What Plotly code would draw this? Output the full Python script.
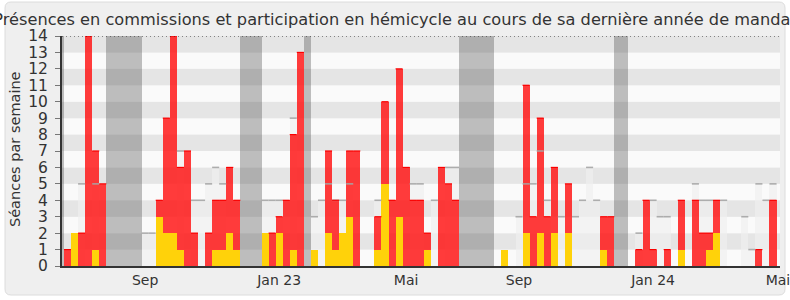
import plotly.graph_objects as go

# ---------------- data (one entry per week, week 0 .. 100) ----------------
n_weeks = 101
weeks = list(range(n_weeks))

# yellow part (bottom of each bar)
hemicycle = [0] * n_weeks
for w, v in {1: 2, 4: 1, 13: 3, 14: 2, 15: 2, 16: 1, 21: 1, 22: 1, 23: 2, 24: 1,
             28: 2, 30: 2, 32: 1, 35: 1, 37: 2, 38: 1, 39: 2, 40: 3, 44: 1, 45: 5,
             47: 3, 51: 1, 62: 1, 65: 2, 67: 2, 69: 2, 71: 2, 76: 1, 87: 1, 91: 1,
             92: 2}.items():
    hemicycle[w] = v

# red part (stacked on the yellow part)
commissions = [0] * n_weeks
for w, v in {0: 1, 2: 2, 3: 14, 4: 6, 5: 5, 13: 1, 14: 7, 15: 12, 16: 5, 17: 7,
             18: 2, 20: 2, 21: 3, 22: 3, 23: 4, 24: 3, 29: 2, 30: 1, 31: 4, 32: 7,
             33: 13, 37: 5, 38: 3, 40: 4, 41: 7, 44: 2, 45: 5, 46: 4, 47: 9, 48: 6,
             49: 4, 50: 4, 51: 1, 53: 6, 54: 5, 55: 4, 65: 9, 66: 3, 67: 7, 68: 3,
             69: 4, 71: 3, 76: 2, 77: 3, 81: 1, 82: 4, 83: 1, 85: 1, 87: 3, 89: 4,
             90: 2, 91: 1, 92: 2, 98: 1, 100: 4}.items():
    commissions[w] = v

# median of all deputies (light grey bars)
mediane = [None] * n_weeks
for w, v in {2: 5, 4: 5, 11: 2, 12: 2, 16: 7, 18: 4, 19: 4, 20: 5, 21: 6, 22: 5,
             28: 4, 29: 4, 30: 4, 32: 9, 35: 3, 36: 4, 37: 5, 38: 4, 39: 4, 40: 5,
             44: 4, 49: 5, 50: 5, 52: 4, 54: 6, 55: 6, 64: 3, 65: 5, 66: 5, 67: 7,
             68: 4, 70: 3, 72: 3, 73: 4, 74: 6, 75: 4, 81: 2, 83: 4, 84: 3, 85: 3,
             89: 5, 90: 4, 91: 4, 93: 4, 96: 3, 97: 1, 98: 5, 99: 4, 100: 5}.items():
    mediane[w] = v

# parliamentary holiday weeks
vacances = [-1, 6, 7, 8, 9, 10, 25, 26, 27, 34, 56, 57, 58, 59, 60, 78, 79]

# x tick labels and the week at which they sit
tick_weeks = [11, 30, 48, 64, 83, 100.7]
tick_labels = ["Sep", "Jan 23", "Mai", "Sep", "Jan 24", "Mai"]

y_max = 14
title = "Présences en commissions et participation en hémicycle au cours de sa dernière année de mandat"
y_title = "Séances par semaine"

# ---------------- figure ----------------
W, H = 790, 300
ML, MR, MT, MB = 62, 10, 36, 34
X_RANGE = [-0.78, 100.99]

fig = go.Figure()

# holidays
fig.add_trace(go.Bar(x=vacances, y=[y_max] * len(vacances), width=1,
                     marker=dict(color="rgba(50,50,50,0.3)", line=dict(width=0)),
                     hoverinfo="skip", showlegend=False))

# median bars
med_x = [w for w in weeks if mediane[w]]
med_y = [mediane[w] for w in med_x]
fig.add_trace(go.Bar(x=med_x, y=med_y, width=1,
                     marker=dict(color="rgba(240,240,240,0.7)", line=dict(width=0)),
                     hoverinfo="skip", showlegend=False))
seg_x, seg_y = [], []
for w, v in zip(med_x, med_y):
    seg_x += [w - 0.5, w + 0.5, None]
    seg_y += [v, v, None]
fig.add_trace(go.Scatter(x=seg_x, y=seg_y, mode="lines",
                         line=dict(color="rgba(165,165,165,0.9)", width=1.6),
                         hoverinfo="skip", showlegend=False))

# red part (stacked on yellow)
red_x = [w for w in weeks if commissions[w] > 0]
fig.add_trace(go.Bar(x=red_x, y=[commissions[w] for w in red_x],
                     base=[hemicycle[w] for w in red_x], width=1,
                     marker=dict(color="rgba(255,25,25,0.85)", line=dict(width=0)),
                     hoverinfo="skip", showlegend=False))
# yellow part
yel_x = [w for w in weeks if hemicycle[w] > 0]
fig.add_trace(go.Bar(x=yel_x, y=[hemicycle[w] for w in yel_x], width=1,
                     marker=dict(color="rgb(255,210,10)", line=dict(width=0)),
                     hoverinfo="skip", showlegend=False))
# red top edges
rx, ry = [], []
for w in red_x:
    t = commissions[w] + hemicycle[w]
    rx += [w - 0.5, w + 0.5, None]
    ry += [t, t, None]
fig.add_trace(go.Scatter(x=rx, y=ry, mode="lines",
                         line=dict(color="rgb(250,0,0)", width=1.2),
                         hoverinfo="skip", showlegend=False))

# stripes
shapes = []
for k in range(y_max):
    shapes.append(dict(type="rect", xref="x domain", yref="y", x0=0, x1=1,
                       y0=k, y1=k + 1, layer="below", line=dict(width=0),
                       fillcolor="#e5e5e5" if k % 2 == 1 else "#fafafa"))

# outer rounded panel (pixel -> paper conversion)
pw, ph = W - ML - MR, H - MT - MB
def px(x):
    return (x - ML) / pw
def py(y):
    return (H - MB - y) / ph
x0, x1, y0, y1, r = 5, 785, 2, 295, 6
path = (f"M {px(x0 + r)} {py(y0)} L {px(x1 - r)} {py(y0)} "
        f"Q {px(x1)} {py(y0)} {px(x1)} {py(y0 + r)} L {px(x1)} {py(y1 - r)} "
        f"Q {px(x1)} {py(y1)} {px(x1 - r)} {py(y1)} L {px(x0 + r)} {py(y1)} "
        f"Q {px(x0)} {py(y1)} {px(x0)} {py(y1 - r)} L {px(x0)} {py(y0 + r)} "
        f"Q {px(x0)} {py(y0)} {px(x0 + r)} {py(y0)} Z")
shapes.insert(0, dict(type="path", xref="paper", yref="paper", path=path,
                      fillcolor="#efefef", line=dict(color="#dcdcdc", width=1),
                      layer="below"))
# dotted line at the top
shapes.append(dict(type="line", xref="x domain", yref="y", x0=0, x1=1,
                   y0=y_max, y1=y_max, layer="above",
                   line=dict(color="#222", width=1, dash="1px,3px")))

fig.update_layout(
    width=W, height=H,
    margin=dict(l=ML, r=MR, t=MT, b=MB, autoexpand=False),
    paper_bgcolor="white", plot_bgcolor="#fafafa",
    barmode="overlay", bargap=0,
    shapes=shapes,
    font=dict(family="DejaVu Sans", color="#333"),
    title=dict(text=title, x=0.5, xref="container", xanchor="center",
               y=1 - 19.5 / H, yref="container", yanchor="middle",
               font=dict(size=16.2, color="#333")),
    xaxis=dict(range=X_RANGE, tickmode="array", tickvals=tick_weeks,
               ticktext=tick_labels, showgrid=False, zeroline=False,
               showline=True, linecolor="#333", linewidth=2, ticks="",
               ticklabeloverflow="allow", automargin=False,
               tickfont=dict(size=14, color="#333"), fixedrange=True),
    yaxis=dict(range=[0, y_max], tickmode="array", tickvals=list(range(y_max + 1)),
               showgrid=False, zeroline=False, showline=True, linecolor="#333",
               linewidth=2, ticks="outside", ticklen=5, tickcolor="#777",
               tickwidth=1, ticklabelstandoff=4, automargin=False,
               tickfont=dict(size=15.5, color="#333"), fixedrange=True),
    annotations=[dict(text=y_title, xref="paper", yref="paper",
                      x=px(15), y=py(149), textangle=-90, showarrow=False,
                      xanchor="center", yanchor="middle",
                      font=dict(size=14.5, color="#333"))],
)

fig.write_html("out.html")
